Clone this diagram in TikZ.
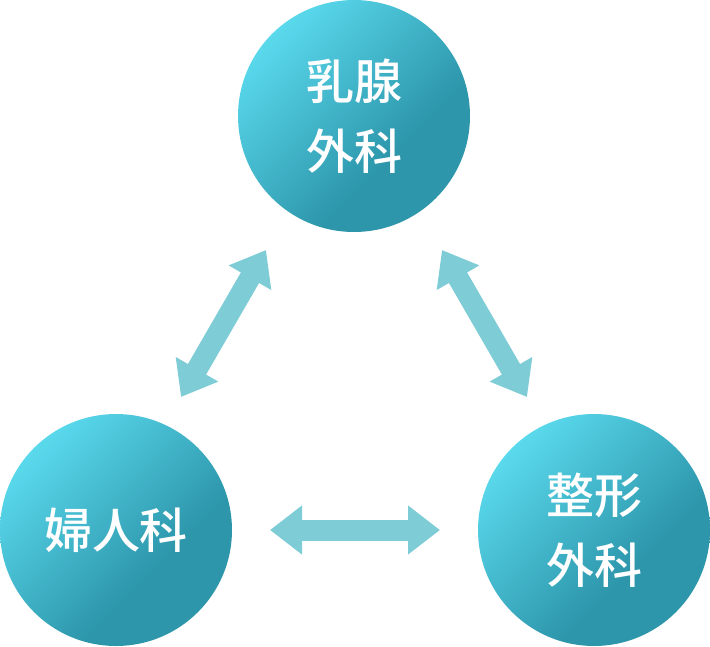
\documentclass[tikz,border=0pt]{standalone}
\usepackage{fontspec}
\newfontfamily\cjk{Noto Sans CJK JP}[UprightFont={* Medium}]
\usetikzlibrary{arrows.meta}
\definecolor{cl}{RGB}{90,217,237}
\definecolor{cm}{RGB}{62,178,198}
\definecolor{cd}{RGB}{45,150,171}
\definecolor{arr}{RGB}{126,204,214}
\pgfdeclarehorizontalshading{circgrad}{100bp}{color(0bp)=(cl); color(25bp)=(cl); color(62bp)=(cd); color(100bp)=(cd)}
\tikzset{
  dept/.style={circle, minimum size=232pt, inner sep=0pt, shading=circgrad, shading angle=-45,
    text=white, align=center, font=\cjk\fontsize{48pt}{70pt}\selectfont},
  dbl/.style={draw=arr, line width=21pt, {Triangle[length=32pt,width=47pt]}-{Triangle[length=32pt,width=47pt]}}
}
\begin{document}
\begin{tikzpicture}[x=1pt,y=-1pt]
\useasboundingbox (0,0) rectangle (710,646);
\node[dept] (top) at (354,116) {乳腺\\外科};
\node[dept] (left) at (116,530) {婦人科};
\node[dept] (right) at (594,530) {整形\\外科};
\coordinate (a1) at (266,250);
\coordinate (a2) at (181,397);
\coordinate (b1) at (442,250);
\coordinate (b2) at (527,397);
\coordinate (c1) at (270,530);
\coordinate (c2) at (440,530);
\draw[dbl] (a2) -- (a1);
\draw[dbl] (b1) -- (b2);
\draw[dbl] (c1) -- (c2);
\end{tikzpicture}
\end{document}
